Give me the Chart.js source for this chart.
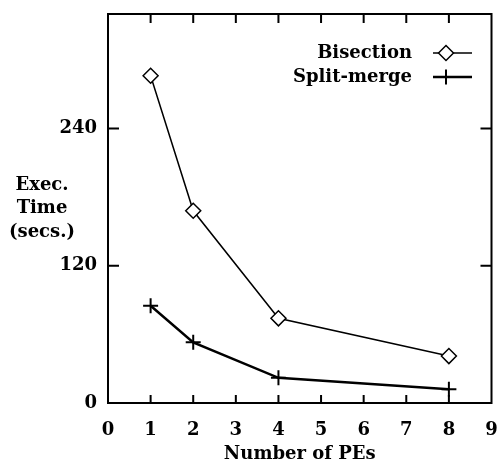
<!DOCTYPE html>
<html>
<head>
<meta charset="utf-8">
<script src="https://cdn.jsdelivr.net/npm/chart.js@4.4.0/dist/chart.umd.min.js"></script>
<style>
html,body{margin:0;padding:0;background:#fff;}
#wrap{width:501px;height:465px;}
</style>
</head>
<body>
<div id="wrap"><canvas id="c" width="501" height="465"></canvas></div>
<script>
const numPEs = [1, 2, 4, 8];
const bisection = [286, 168, 74, 41];
const splitMerge = [85, 53, 22, 12];
const xTickValues = [0, 1, 2, 3, 4, 5, 6, 7, 8, 9];
const yTickValues = [0, 120, 240];
const seriesNames = ['Bisection', 'Split-merge'];
const xTitle = 'Number of PEs';
const yTitleLines = ['Exec.', 'Time', '(secs.)'];

const FONT = '"DejaVu Serif", serif';

const framePlugin = {
  id: 'frame',
  afterDraw(chart) {
    const ctx = chart.ctx;
    const a = chart.chartArea;
    const xs = chart.scales.x, ys = chart.scales.y;
    ctx.save();
    ctx.strokeStyle = '#000';
    ctx.lineWidth = 2;
    ctx.strokeRect(a.left, a.top, a.right - a.left, a.bottom - a.top);
    // inward ticks
    xTickValues.forEach(v => {
      if (v === xs.min || v === xs.max) return;
      const px = xs.getPixelForValue(v);
      ctx.beginPath();
      ctx.moveTo(px, a.bottom); ctx.lineTo(px, a.bottom - 8);
      ctx.moveTo(px, a.top); ctx.lineTo(px, a.top + 9);
      ctx.stroke();
    });
    yTickValues.forEach(v => {
      if (v === ys.min) return;
      const py = ys.getPixelForValue(v);
      ctx.beginPath();
      ctx.moveTo(a.left, py); ctx.lineTo(a.left + 11, py);
      ctx.moveTo(a.right, py); ctx.lineTo(a.right - 11, py);
      ctx.stroke();
    });
    // titles
    ctx.fillStyle = '#000';
    ctx.font = 'bold 18px ' + FONT;
    ctx.textAlign = 'center';
    ctx.textBaseline = 'middle';
    ctx.fillText(xTitle, (a.left + a.right) / 2, 454);
    yTitleLines.forEach((t, i) => ctx.fillText(t, 42, 185 + i * 23.5));
    // legend
    const ds = chart.data.datasets;
    const rows = [53, 77];
    ds.forEach((d, i) => {
      ctx.textAlign = 'right';
      ctx.fillText(seriesNames[i], 412, rows[i]);
      ctx.lineWidth = d.borderWidth;
      ctx.strokeStyle = '#000';
      ctx.beginPath();
      ctx.moveTo(433, rows[i]); ctx.lineTo(472, rows[i]);
      ctx.stroke();
      ctx.fillStyle = '#fff';
      ctx.lineWidth = d.pointBorderWidth;
      Chart.helpers.drawPoint(ctx, {pointStyle: d.pointStyle, radius: d.pointRadius, borderWidth: d.pointBorderWidth}, 446, rows[i]);
      ctx.fillStyle = '#000';
    });
    ctx.restore();
  }
};

new Chart(document.getElementById('c'), {
  type: 'line',
  data: {
    datasets: [
      {
        label: seriesNames[0],
        data: numPEs.map((x, i) => ({x, y: bisection[i]})),
        borderColor: '#000', backgroundColor: '#fff',
        borderWidth: 1.5, pointStyle: 'rectRot', pointRadius: 7.5,
        pointBorderWidth: 1.5, pointBackgroundColor: '#fff', pointBorderColor: '#000',
        tension: 0
      },
      {
        label: seriesNames[1],
        data: numPEs.map((x, i) => ({x, y: splitMerge[i]})),
        borderColor: '#000', backgroundColor: '#000',
        borderWidth: 2.5, pointStyle: 'cross', pointRadius: 7.5,
        pointBorderWidth: 2, pointBorderColor: '#000',
        tension: 0
      }
    ]
  },
  options: {
    responsive: false,
    animation: false,
    events: [],
    layout: { padding: { top: 14, right: 8, left: 0, bottom: 0 } },
    plugins: { legend: { display: false }, tooltip: { enabled: false } },
    scales: {
      x: {
        type: 'linear', min: 0, max: 9,
        afterBuildTicks: s => { s.ticks = xTickValues.map(v => ({value: v})); },
        afterFit: s => { s.height = 62; s.paddingLeft = 0; s.paddingRight = 0; },
        grid: { display: false },
        border: { display: false },
        ticks: { color: '#000', font: { family: FONT, size: 18, weight: 'bold' }, padding: 9, maxRotation: 0, autoSkip: false }
      },
      y: {
        type: 'linear', min: 0, max: 340,
        afterBuildTicks: s => { s.ticks = yTickValues.map(v => ({value: v})); },
        afterFit: s => { s.width = 108; s.paddingTop = 0; s.paddingBottom = 0; },
        grid: { display: false },
        border: { display: false },
        ticks: { color: '#000', font: { family: FONT, size: 18, weight: 'bold' }, padding: 3 }
      }
    }
  },
  plugins: [framePlugin]
});
</script>
</body>
</html>
